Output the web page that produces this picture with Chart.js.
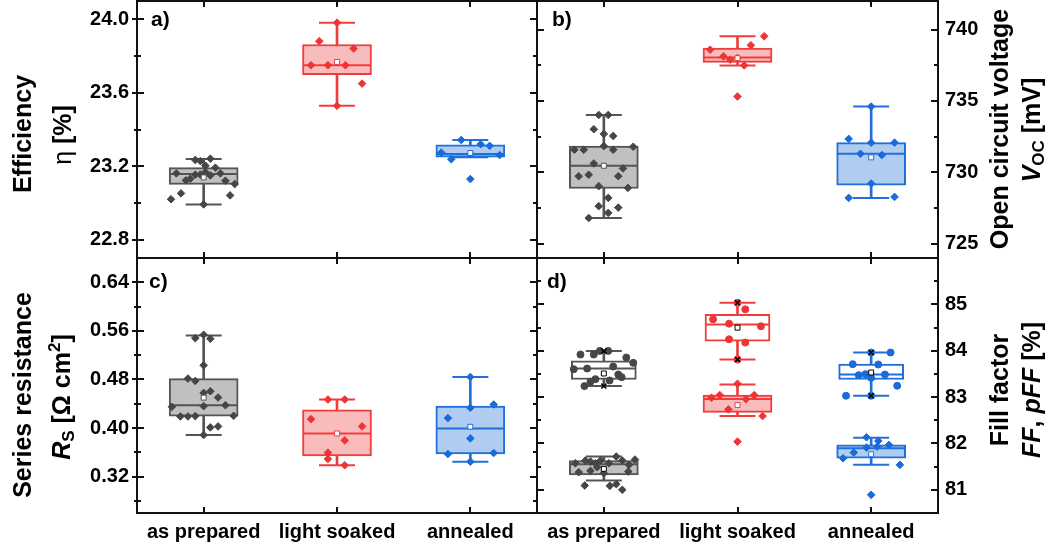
<!DOCTYPE html>
<html>
<head>
<meta charset="utf-8">
<script src="https://cdn.jsdelivr.net/npm/chart.js@4.4.0/dist/chart.umd.min.js"></script>
<style>
  body { margin: 0; background: #fff; }
  #wrap { position: relative; width: 1048px; height: 549px; overflow: hidden; font-family: "Liberation Sans", Arial, sans-serif; color: #000; }
  canvas { position: absolute; }
  .title { position: absolute; transform: translate(-50%, -50%) rotate(-90deg); white-space: nowrap; font-weight: bold; font-size: 25px; line-height: 25px; }
  .title sub { font-size: 0.68em; vertical-align: -0.28em; line-height: 0; }
  .title sup { font-size: 0.68em; vertical-align: 0.55em; line-height: 0; }
  .panel { position: absolute; font-weight: bold; font-size: 21px; line-height: 21px; }
</style>
</head>
<body>
<div id="wrap">
  <canvas id="chartA" width="540" height="262" style="left:0;top:0"></canvas>
  <canvas id="chartB" width="513" height="262" style="left:535px;top:0"></canvas>
  <canvas id="chartC" width="540" height="295" style="left:0;top:254px"></canvas>
  <canvas id="chartD" width="513" height="295" style="left:535px;top:254px"></canvas>

  <div class="title" style="left:22px;top:134px">Efficiency</div>
  <div class="title" style="left:62px;top:135px"><span style="font-weight:normal">η</span> [%]</div>
  <div class="title" style="left:22px;top:395px">Series resistance</div>
  <div class="title" style="left:61px;top:397px"><i>R</i><sub>S</sub> [Ω cm<sup>2</sup>]</div>
  <div class="title" style="left:999px;top:129px">Open circuit voltage</div>
  <div class="title" style="left:1031px;top:130px"><i>V</i><sub>OC</sub> [mV]</div>
  <div class="title" style="left:999px;top:390px">Fill factor</div>
  <div class="title" style="left:1031px;top:390px"><i>FF</i>, <i>pFF</i> [%]</div>

  <div class="panel" style="left:151px;top:8px">a)</div>
  <div class="panel" style="left:552px;top:8px">b)</div>
  <div class="panel" style="left:149px;top:270px">c)</div>
  <div class="panel" style="left:547px;top:270px">d)</div>
</div>

<script>
// Catégories et couleurs
const categories = ['as prepared', 'light soaked', 'annealed'];
const lineColors = ['#555555', '#f03c3c', '#1f6fdc'];
const fillColors = ['#c0c0c0', '#f9bcbc', '#b0cdf1'];
const dotColors = ['#464646', '#ee3434', '#1a6bd9'];

// a) Efficiency [%]
const effQ1 = [23.101, 23.699, 23.249];
const effMedian = [23.157, 23.750, 23.267];
const effQ3 = [23.192, 23.863, 23.316];
const effMin = [22.992, 23.529, 23.249];
const effMax = [23.239, 23.982, 23.343];
const effMean = [23.139, 23.768, 23.272];
const effPoints = [
    [23.020, 23.052, 23.041, 23.161, 23.123, 23.132, 23.154, 23.154, 23.168, 23.150, 23.192, 23.161, 23.121, 23.103, 23.203, 23.228, 23.234, 23.241, 22.992],
    [23.982, 23.881, 23.841, 23.750, 23.750, 23.750, 23.650, 23.529],
    [23.343, 23.320, 23.311, 23.274, 23.238, 23.267, 23.261, 23.130]
];
const effJitter = [
    [-0.245, -0.17, 0.198, -0.205, -0.133, -0.10, -0.063, -0.025, 0.013, 0.05, 0.088, 0.125, 0.163, 0.233, 0.013, -0.025, -0.063, 0.05, 0],
    [0, -0.133, 0.125, -0.195, -0.068, 0.063, 0.188, 0],
    [-0.068, 0.078, 0.145, -0.218, -0.143, 0, 0.22, 0]
];
const effTicks = [22.8, 23.2, 23.6, 24.0];
const effMinor = [23.0, 23.4, 23.8];

// b) Open circuit voltage [mV]
const vocQ1 = [728.87, 737.70, 729.10];
const vocMedian = [730.46, 738.05, 731.30];
const vocQ3 = [731.84, 738.71, 732.08];
const vocMin = [726.80, 737.49, 728.21];
const vocMax = [734.02, 739.53, 734.61];
const vocMean = [730.46, 738.00, 731.05];
const vocPoints = [
    [734.02, 734.02, 733.02, 732.69, 732.55, 731.58, 731.58, 731.84, 731.58, 731.79, 730.62, 729.73, 729.83, 729.73, 730.27, 729.03, 728.91, 728.21, 727.63, 727.53, 727.16, 726.80],
    [739.53, 738.90, 738.59, 738.12, 737.89, 738.01, 737.49, 735.31],
    [734.61, 732.34, 732.08, 732.08, 731.30, 731.21, 729.22, 728.21, 728.28]
];
const vocJitter = [
    [-0.038, 0.033, -0.075, 0, 0.07, -0.22, -0.15, 0, 0.07, 0.22, -0.075, -0.188, -0.113, 0.108, 0.143, -0.038, 0.18, 0.033, -0.038, 0.108, 0.033, -0.113],
    [0.2, 0.1, -0.205, -0.105, -0.055, 0, 0.05, 0],
    [0, -0.168, 0, 0.175, -0.08, 0.08, 0, -0.168, 0.175]
];
const vocTicks = [725, 730, 735, 740];
const vocMinor = [727.5, 732.5, 737.5];

// c) Series resistance [Ohm cm2]
const rsQ1 = [0.4196, 0.3539, 0.3572];
const rsMedian = [0.4376, 0.3911, 0.3993];
const rsQ3 = [0.4814, 0.4300, 0.4360];
const rsMin = [0.3884, 0.3386, 0.3446];
const rsMax = [0.5525, 0.4469, 0.4841];
const rsMean = [0.4500, 0.3910, 0.4020];
const rsPoints = [
    [0.548, 0.547, 0.5536, 0.5033, 0.4814, 0.4775, 0.4578, 0.4606, 0.4502, 0.4349, 0.436, 0.4376, 0.419, 0.419, 0.4196, 0.4201, 0.401, 0.4026, 0.3884],
    [0.4469, 0.4469, 0.4146, 0.4026, 0.3796, 0.3594, 0.349, 0.3386],
    [0.4841, 0.4387, 0.4332, 0.4163, 0.3829, 0.3572, 0.3588, 0.3446]
];
const rsJitter = [
    [-0.063, 0.05, 0, 0, -0.118, -0.063, 0, 0.05, 0.108, -0.238, 0, 0.163, -0.175, -0.118, -0.063, 0.225, 0.05, 0.108, 0],
    [-0.068, 0.058, -0.195, 0.188, 0.058, -0.068, -0.068, 0.058],
    [0, 0.175, 0, -0.168, 0, -0.168, 0.175, 0]
];
const rsTicks = [0.32, 0.40, 0.48, 0.56, 0.64];
const rsMinor = [0.28, 0.36, 0.44, 0.52, 0.60];

// d) Fill factor FF [%]
const ffQ1 = [81.323, 82.670, 81.681];
const ffMedian = [81.552, 82.957, 81.896];
const ffQ3 = [81.631, 83.043, 81.968];
const ffMin = [81.201, 82.591, 81.538];
const ffMax = [81.717, 83.272, 82.125];
const ffMean = [81.452, 82.828, 81.767];
const ffPoints = [
    [81.573, 81.631, 81.609, 81.573, 81.631, 81.573, 81.717, 81.631, 81.538, 81.652, 81.380, 81.409, 81.487, 81.358, 81.394, 81.093, 81.086, 81.122, 81.000],
    [83.287, 82.986, 83.043, 82.957, 83.043, 82.735, 82.591, 82.039],
    [82.133, 82.054, 81.968, 81.910, 81.932, 81.803, 81.681, 81.538, 80.892]
];
const ffJitter = [
    [-0.213, -0.138, -0.1, -0.063, -0.025, 0.038, 0.093, 0.138, 0.188, 0.233, -0.188, -0.1, -0.05, 0, 0.183, -0.143, 0.045, 0.093, 0.138],
    [0, -0.195, -0.133, 0.063, 0.125, -0.068, 0.188, 0],
    [-0.035, 0.053, 0.133, -0.035, 0.045, -0.13, -0.21, 0.215, 0]
];

// d) Pseudo fill factor pFF [%]
const pffQ1 = [83.380, 84.204, 83.380];
const pffMedian = [83.616, 84.563, 83.487];
const pffQ3 = [83.781, 84.785, 83.710];
const pffMin = [83.237, 83.810, 83.029];
const pffMax = [83.996, 85.036, 83.961];
const pffMean = [83.509, 84.498, 83.530];
const pffPoints = [
    [83.918, 83.918, 83.996, 83.996, 83.853, 83.738, 83.602, 83.616, 83.659, 83.387, 83.330, 83.358, 83.487, 83.430, 83.237],
    [85.036, 84.892, 84.677, 84.584, 84.527, 84.247, 84.176, 83.810],
    [83.961, 83.961, 83.710, 83.703, 83.473, 83.495, 83.487, 83.416, 83.244, 83.029, 83.029]
];
const pffJitter = [
    [-0.175, -0.075, -0.03, 0.033, 0.168, 0.22, -0.225, -0.125, 0.07, -0.063, -0.1, 0.043, 0.108, 0.133, -0.145],
    [0, 0.058, -0.183, -0.063, 0.175, -0.063, 0.058, 0],
    [0.145, 0, -0.138, 0.053, -0.093, -0.043, 0.103, 0, 0.195, -0.188, 0]
];
const ffTicks = [81, 82, 83, 84, 85];
const ffMinor = [81.5, 82.5, 83.5, 84.5, 85.5];

const FONT = '"Liberation Sans", Arial, sans-serif';
Chart.defaults.font.family = FONT;

// Cadre + graduations (vers l'intérieur, et vers l'extérieur à gauche)
const frameTicks = {
    id: 'frameTicks',
    afterDatasetsDraw(chart, args, opts) {
        const { ctx, chartArea: a, scales } = chart;
        ctx.save();
        ctx.strokeStyle = '#111';
        ctx.lineWidth = 2;
        ctx.strokeRect(a.left, a.top, a.right - a.left, a.bottom - a.top);
        ctx.beginPath();
        const mark = (v, len, out) => {
            const py = Math.round(scales.y.getPixelForValue(v));
            ctx.moveTo(a.left - out, py);
            ctx.lineTo(a.left + len, py);
            ctx.moveTo(a.right - len, py);
            ctx.lineTo(a.right, py);
        };
        opts.major.forEach(v => mark(v, 7, opts.out));
        opts.minor.forEach(v => mark(v, 4, opts.out ? 3 : 0));
        categories.forEach((c, i) => {
            const px = Math.round(scales.x.getPixelForValue(i));
            ctx.moveTo(px, a.top);
            ctx.lineTo(px, a.top + 6);
            ctx.moveTo(px, a.bottom - 6);
            ctx.lineTo(px, a.bottom);
        });
        ctx.stroke();
        ctx.restore();
    }
};

// Jeux de données d'une boîte à moustaches (3 catégories)
function boxSeries(q1, med, q3, lo, hi, mean, pts, jit, st) {
    const idx = [0, 1, 2];
    const sets = [
        { type: 'bar', data: idx.map(i => ({ x: i, y: [lo[i], hi[i]] })),
          backgroundColor: lineColors, barThickness: 2, grouped: false, order: 9 },
        { type: 'scatter', data: idx.flatMap(i => [{ x: i, y: lo[i] }, { x: i, y: hi[i] }]),
          pointStyle: 'line', pointRadius: 18, pointBorderWidth: 2,
          pointBorderColor: idx.flatMap(i => [lineColors[i], lineColors[i]]), order: 8 },
        { type: 'bar', data: idx.map(i => ({ x: i, y: [q1[i], q3[i]] })),
          backgroundColor: st.open ? '#ffffff' : fillColors, borderColor: lineColors,
          borderWidth: 2, borderSkipped: false, barThickness: st.width, grouped: false, order: 7 },
        { type: 'scatter', data: idx.map(i => ({ x: i, y: med[i] })),
          pointStyle: 'line', pointRadius: st.width / 2 - 1, pointBorderWidth: 2,
          pointBorderColor: lineColors, order: 6 },
        { type: 'scatter', data: idx.flatMap(i => pts[i].map((v, k) => ({ x: i + jit[i][k], y: v }))),
          pointStyle: st.dot, pointRadius: st.dot === 'circle' ? 3.5 : 3.8, pointBorderWidth: 1,
          pointBackgroundColor: idx.flatMap(i => pts[i].map(() => dotColors[i])),
          pointBorderColor: idx.flatMap(i => pts[i].map(() => dotColors[i])), order: 5 },
        { type: 'scatter', data: idx.map(i => ({ x: i, y: mean[i] })),
          pointStyle: 'rect', pointRadius: 3.5, pointBorderWidth: 1,
          pointBackgroundColor: '#ffffff', pointBorderColor: st.meanColor || lineColors, order: 4 }
    ];
    if (st.ends) {
        sets.push({ type: 'scatter', data: idx.flatMap(i => [{ x: i, y: lo[i] }, { x: i, y: hi[i] }]),
            pointStyle: 'crossRot', pointRadius: 3.5, pointBorderWidth: 1.5,
            pointBorderColor: '#000', order: 3 });
    }
    return sets;
}

function makeChart(id, datasets, p) {
    return new Chart(document.getElementById(id), {
        type: 'scatter',
        data: { datasets: datasets },
        plugins: [frameTicks],
        options: {
            responsive: false,
            devicePixelRatio: 1,
            animation: false,
            events: [],
            layout: { padding: p.padding, autoPadding: false },
            plugins: {
                legend: { display: false },
                tooltip: { enabled: false },
                frameTicks: { major: p.major, minor: p.minor, out: p.out }
            },
            scales: {
                x: {
                    type: 'linear', min: -0.5, max: 2.5, offset: false,
                    display: p.showX,
                    grid: { display: false, drawTicks: false },
                    border: { display: false },
                    afterBuildTicks: s => { s.ticks = categories.map((c, i) => ({ value: i })); },
                    afterFit: s => { s.height = p.showX ? 36 : 0; s.paddingLeft = 0; s.paddingRight = 0; },
                    ticks: { callback: v => categories[v], font: { family: FONT, size: 20, weight: 'bold' },
                             color: '#000', padding: 7, maxRotation: 0, autoSkip: false }
                },
                y: {
                    type: 'linear', position: p.side, min: p.min, max: p.max,
                    grid: { display: false, drawTicks: false },
                    border: { display: false },
                    afterBuildTicks: s => { s.ticks = p.major.map(v => ({ value: v })); },
                    afterFit: s => {
                        s.width = p.side === 'left' ? 137 : 110;
                        s.paddingTop = 0;
                        s.paddingBottom = 0;
                    },
                    ticks: { callback: v => p.fmt(v), font: { family: FONT, size: 20, weight: 'bold' },
                             color: '#000', padding: p.side === 'left' ? 8 : 7 }
                }
            }
        }
    });
}

const filled = { width: 69, dot: 'rectRot', open: false };

makeChart('chartA',
    boxSeries(effQ1, effMedian, effQ3, effMin, effMax, effMean, effPoints, effJitter, filled),
    { padding: { left: 0, top: 1, right: 3, bottom: 4 }, side: 'left', min: 22.7, max: 24.1,
      major: effTicks, minor: effMinor, out: 5, showX: false, fmt: v => v.toFixed(1) });

makeChart('chartB',
    boxSeries(vocQ1, vocMedian, vocQ3, vocMin, vocMax, vocMean, vocPoints, vocJitter, filled),
    { padding: { left: 2, top: 1, right: 0, bottom: 4 }, side: 'right', min: 724, max: 742,
      major: vocTicks, minor: vocMinor, out: 0, showX: false, fmt: v => v.toFixed(0) });

makeChart('chartC',
    boxSeries(rsQ1, rsMedian, rsQ3, rsMin, rsMax, rsMean, rsPoints, rsJitter, filled),
    { padding: { left: 0, top: 4, right: 3, bottom: 0 }, side: 'left', min: 0.26, max: 0.68,
      major: rsTicks, minor: rsMinor, out: 5, showX: true, fmt: v => v.toFixed(2) });

makeChart('chartD',
    boxSeries(ffQ1, ffMedian, ffQ3, ffMin, ffMax, ffMean, ffPoints, ffJitter,
              { width: 69, dot: 'rectRot', open: false, meanColor: ['#000', lineColors[1], lineColors[2]] })
    .concat(boxSeries(pffQ1, pffMedian, pffQ3, pffMin, pffMax, pffMean, pffPoints, pffJitter,
              { width: 65, dot: 'circle', open: true, ends: true, meanColor: '#000' })),
    { padding: { left: 2, top: 4, right: 0, bottom: 0 }, side: 'right', min: 80.5, max: 86,
      major: ffTicks, minor: ffMinor, out: 0, showX: true, fmt: v => v.toFixed(0) });
</script>
</body>
</html>
